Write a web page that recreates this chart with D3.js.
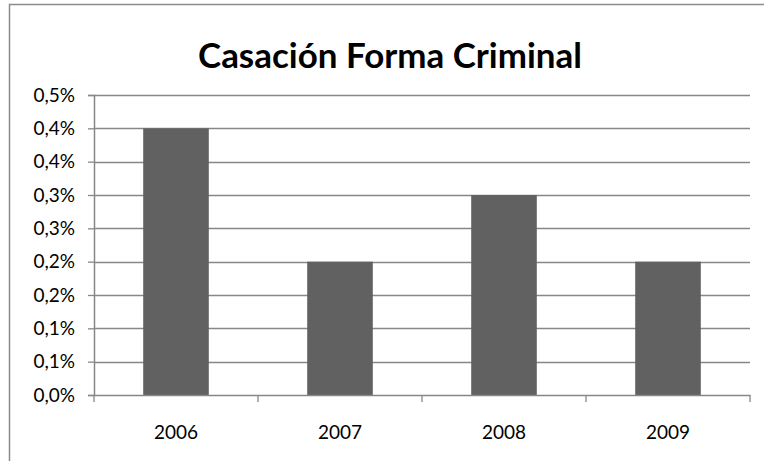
<!DOCTYPE html>
<html>
<head>
<meta charset="utf-8">
<script src="https://cdn.jsdelivr.net/npm/d3@7"></script>
<style>
  html, body { margin: 0; padding: 0; background: #fff; }
  svg { display: block; }
</style>
</head>
<body>
<div id="chart"></div>
<script>
// Chart data
const titleText = "Casación Forma Criminal";
const years = ["2006", "2007", "2008", "2009"];
const rates = [0.004, 0.002, 0.003, 0.002];
// Value axis: ticks every 0.05 %, labelled with one decimal
const yTickValues = [0, 0.0005, 0.001, 0.0015, 0.002, 0.0025, 0.003, 0.0035, 0.004, 0.0045];
const yTickLabels = ["0,0%", "0,1%", "0,1%", "0,2%", "0,2%", "0,3%", "0,3%", "0,4%", "0,4%", "0,5%"];

const W = 764, H = 461;
const plot = { left: 94, right: 750, top: 95, bottom: 395 };
const gridColor = "#878787";
const barColor = "#616161";
const font = "Lato, 'Open Sans', sans-serif";

const svg = d3.select("#chart").append("svg")
  .attr("width", W).attr("height", H);

// Chart frame (continues past the window on right and bottom)
svg.append("rect")
  .attr("x", 9.5).attr("y", 4.5)
  .attr("width", 900).attr("height", 600)
  .attr("fill", "#fff").attr("stroke", "#8c8c8c").attr("stroke-width", 1.5);

const x = d3.scaleBand().domain(years).range([plot.left, plot.right]).paddingInner(0.6).paddingOuter(0.3);
const y = d3.scaleLinear().domain([0, 0.0045]).range([plot.bottom, plot.top]);

// Horizontal gridlines
svg.append("g").selectAll("line")
  .data(yTickValues.slice(1))
  .join("line")
  .attr("x1", plot.left).attr("x2", plot.right)
  .attr("y1", d => Math.round(y(d)) + 0.5).attr("y2", d => Math.round(y(d)) + 0.5)
  .attr("stroke", gridColor).attr("stroke-width", 1.3);

// Bars
svg.append("g").selectAll("rect")
  .data(years.map((yr, i) => ({ yr, v: rates[i] })))
  .join("rect")
  .attr("x", d => x(d.yr))
  .attr("width", x.bandwidth())
  .attr("y", d => y(d.v))
  .attr("height", d => y(0) - y(d.v))
  .attr("fill", barColor);

// Value axis
const yAxis = svg.append("g")
  .attr("transform", `translate(${plot.left},0)`)
  .call(d3.axisLeft(y).tickValues(yTickValues).tickSize(6).tickPadding(13)
    .tickFormat((d, i) => yTickLabels[i]));
yAxis.select(".domain").attr("stroke", gridColor).attr("stroke-width", 1.5);
yAxis.selectAll(".tick line").attr("stroke", gridColor).attr("stroke-width", 1.3);
yAxis.selectAll(".tick text")
  .attr("font-family", font).attr("font-size", 19).attr("fill", "#000");

// Category axis
const xAxis = svg.append("g")
  .attr("transform", `translate(0,${plot.bottom})`)
  .call(d3.axisBottom(x).tickSize(0).tickPadding(31));
xAxis.select(".domain").attr("stroke", gridColor).attr("stroke-width", 1.5);
xAxis.selectAll(".tick text")
  .attr("font-family", font).attr("font-size", 19).attr("fill", "#000");

// Tick marks on category boundaries
const bounds = d3.range(years.length + 1).map(i => plot.left + i * (plot.right - plot.left) / years.length);
svg.append("g").selectAll("line")
  .data(bounds)
  .join("line")
  .attr("x1", d => d).attr("x2", d => d)
  .attr("y1", plot.bottom).attr("y2", plot.bottom + 7)
  .attr("stroke", gridColor).attr("stroke-width", 1.3);

// Title
const title = svg.append("text")
  .attr("x", 390).attr("y", 68)
  .attr("text-anchor", "middle")
  .attr("font-family", font).attr("font-weight", "bold")
  .attr("font-size", 32).attr("fill", "#000")
  .text(titleText);
const tw = title.node().getComputedTextLength();
title.attr("font-size", 32 * 384 / tw);
</script>
</body>
</html>
